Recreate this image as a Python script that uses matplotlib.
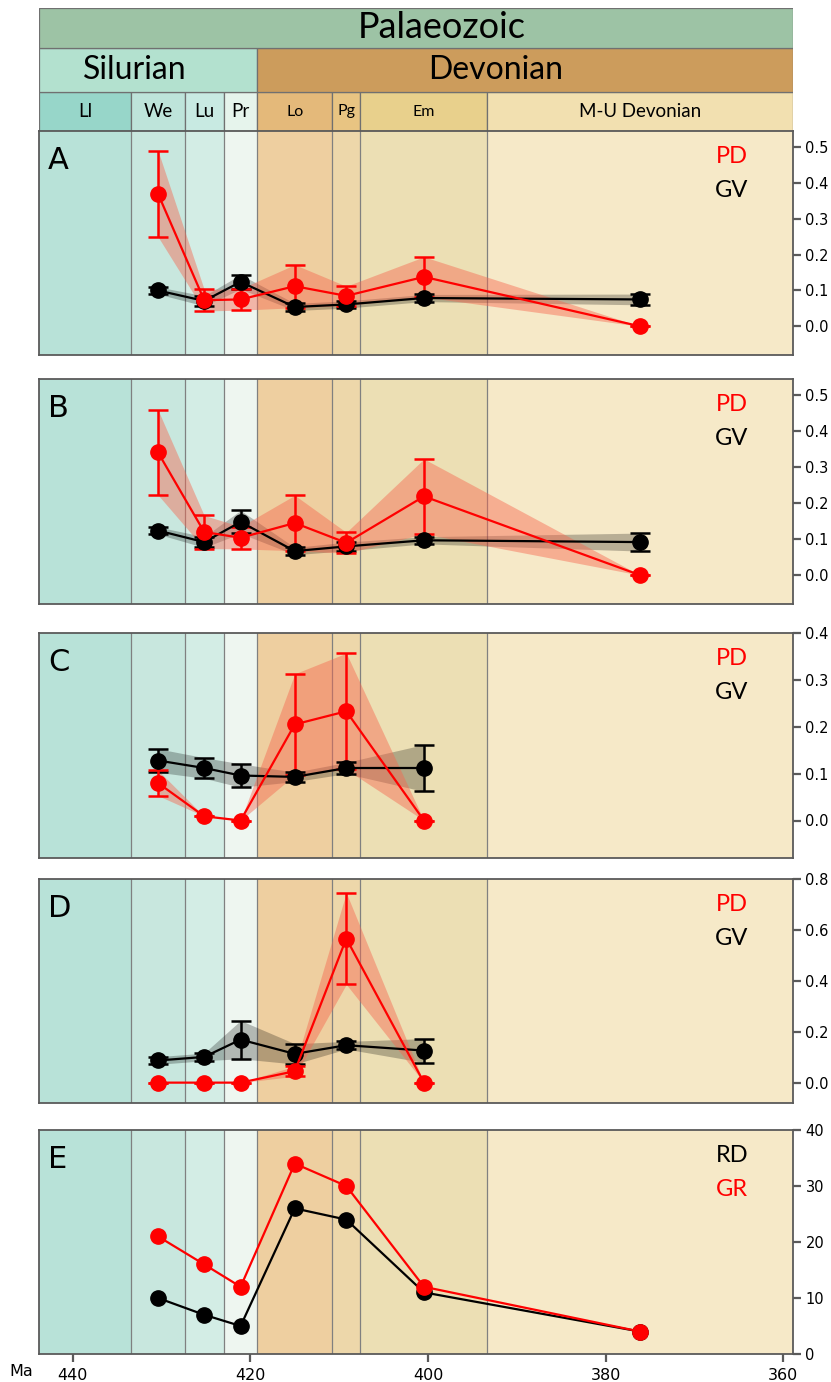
import numpy as np
import matplotlib
matplotlib.use('Agg')
import matplotlib.pyplot as plt
from matplotlib.patches import Rectangle

############
# Datos    #
############

# escala de tiempo (Ma)
stage_names = ['Ll', 'We', 'Lu', 'Pr', 'Lo', 'Pg', 'Em', 'M-U Devonian']
stage_base = [443.8, 433.4, 427.4, 423.0, 419.2, 410.8, 407.6, 393.3]
stage_top = [433.4, 427.4, 423.0, 419.2, 410.8, 407.6, 393.3, 358.9]
period_names = ['Silurian', 'Devonian']
period_base = [443.8, 419.2]
period_top = [419.2, 358.9]
era_name = 'Palaeozoic'

# puntos en el centro de cada piso (We ... M-U)
x_mid = [(b + t) / 2 for b, t in zip(stage_base[1:], stage_top[1:])]

# A
pd_a = [0.37, 0.073, 0.075, 0.112, 0.085, 0.138, 0.0]
pd_a_err = [0.12, 0.03, 0.03, 0.06, 0.027, 0.056, 0.0]
gv_a = [0.10, 0.071, 0.124, 0.054, 0.061, 0.079, 0.075]
gv_a_err = [0.01, 0.014, 0.02, 0.01, 0.01, 0.01, 0.015]

# B
pd_b = [0.341, 0.120, 0.104, 0.145, 0.090, 0.219, 0.0]
pd_b_err = [0.118, 0.046, 0.031, 0.077, 0.029, 0.104, 0.0]
gv_b = [0.124, 0.092, 0.148, 0.067, 0.080, 0.097, 0.092]
gv_b_err = [0.01, 0.015, 0.032, 0.01, 0.012, 0.01, 0.025]

# C (hasta Em)
pd_c = [0.080, 0.009, 0.0, 0.205, 0.233, 0.0]
pd_c_err = [0.027, 0.0, 0.0, 0.108, 0.124, 0.0]
gv_c = [0.128, 0.112, 0.096, 0.093, 0.112, 0.112]
gv_c_err = [0.025, 0.022, 0.025, 0.01, 0.012, 0.05]

# D (hasta Em)
pd_d = [0.0, 0.0, 0.0, 0.045, 0.566, 0.0]
pd_d_err = [0.0, 0.0, 0.0, 0.02, 0.18, 0.0]
gv_d = [0.087, 0.101, 0.169, 0.113, 0.147, 0.126]
gv_d_err = [0.015, 0.015, 0.075, 0.04, 0.015, 0.047]

# E
rd_e = [10, 7, 5, 26, 24, 11, 4]
gr_e = [21, 16, 12, 34, 30, 12, 4]

yticks_ab = [0.0, 0.1, 0.2, 0.3, 0.4, 0.5]
yticks_c = [0.0, 0.1, 0.2, 0.3, 0.4]
yticks_d = [0.0, 0.2, 0.4, 0.6, 0.8]
yticks_e = [0, 10, 20, 30, 40]
xticks_ma = [440, 420, 400, 380, 360]

############
# Estilo   #
############

hdr_colors = ['#97d6c9', '#bee4da', '#c8eae2', '#e6f4ec',
              '#e4b97a', '#e8c482', '#e8d08c', '#f2e0b0']
bg_colors = ['#b8e2d8', '#c8e7de', '#d3ede5', '#eef6f0',
             '#eecfa0', '#edd7aa', '#ecdfb4', '#f6e9c8']
period_colors = ['#b3e1cf', '#cc9c5c']
era_color = '#9dc3a5'
edge = '#707070'
spine_col = '#5a5a5a'

W, H = 831, 1382


def px_rect(x0, y0, x1, y1):
    return [x0 / W, 1 - y1 / H, (x1 - x0) / W, (y1 - y0) / H]


fig = plt.figure(figsize=(W / 100, H / 100), dpi=100)
xlim = (stage_base[0], stage_top[-1])

#############
# Cabecera  #
#############

hdr = fig.add_axes(px_rect(39, 8, 793, 131))
hdr.set_xlim(*xlim)
hdr.set_ylim(0, 123)
hdr.axis('off')

for name, b, t, c in zip(stage_names, stage_base, stage_top, hdr_colors):
    hdr.add_patch(Rectangle((t, 0), b - t, 39, fc=c, ec=edge, lw=0.9))
    small = name in ('Lo', 'Pg', 'Em')
    hdr.text((b + t) / 2, 19.5, name, ha='center', va='center',
             fontsize=11.5 if small else 13.5, family='Lato')

for name, b, t, c in zip(period_names, period_base, period_top, period_colors):
    hdr.add_patch(Rectangle((t, 39), b - t, 44, fc=c, ec=edge, lw=0.9))
hdr.text(433.0, 61, period_names[0], ha='center', va='center', fontsize=23, family='Lato')
hdr.text(392.4, 61, period_names[1], ha='center', va='center', fontsize=23, family='Lato')

hdr.add_patch(Rectangle((xlim[1], 83), xlim[0] - xlim[1], 40, fc=era_color, ec=edge, lw=0.9))
hdr.text(398.5, 103, era_name, ha='center', va='center', fontsize=26, family='Lato')

############
# Paneles  #
############

panel_px = [(131, 355), (379, 604), (633, 858), (879, 1103), (1130, 1354)]


def base_panel(rect, ylim, yticks, fmt):
    ax = fig.add_axes(px_rect(39, rect[0], 793, rect[1]))
    ax.set_xlim(*xlim)
    ax.set_ylim(*ylim)
    for b, t, c in zip(stage_base, stage_top, bg_colors):
        ax.axvspan(t, b, color=c, lw=0, zorder=0)
    for b in stage_base[1:]:
        ax.axvline(b, color='#808080', lw=0.9, zorder=0.5)
    ax.yaxis.tick_right()
    ax.set_yticks(yticks)
    ax.set_yticklabels([fmt.format(v) for v in yticks])
    ax.tick_params(axis='y', direction='out', length=6, width=1.6,
                   color=spine_col, labelsize=10.5, pad=3)
    ax.set_xticks([])
    for s in ax.spines.values():
        s.set_color(spine_col)
        s.set_linewidth(1.3)
    return ax


def series(ax, x, y, e, col, band_col, band_alpha):
    y = np.array(y)
    e = np.array(e)
    ax.fill_between(x, y - e, y + e, color=band_col, alpha=band_alpha, lw=0, zorder=1)
    ax.errorbar(x, y, yerr=e, fmt='-o', color=col, ms=11, lw=1.6,
                elinewidth=1.8, capsize=7, capthick=1.8, zorder=3)


panels = [
    ('A', (-0.08, 0.545), yticks_ab, pd_a, pd_a_err, gv_a, gv_a_err),
    ('B', (-0.08, 0.545), yticks_ab, pd_b, pd_b_err, gv_b, gv_b_err),
    ('C', (-0.08, 0.40), yticks_c, pd_c, pd_c_err, gv_c, gv_c_err),
    ('D', (-0.08, 0.80), yticks_d, pd_d, pd_d_err, gv_d, gv_d_err),
]

for i, (lab, ylim, yt, pdv, pde, gvv, gve) in enumerate(panels):
    ax = base_panel(panel_px[i], ylim, yt, '{:.1f}')
    xs = x_mid[:len(pdv)]
    series(ax, xs, gvv, gve, 'black', 'black', 0.25)
    series(ax, xs, pdv, pde, 'red', '#f66750', 0.45)
    ax.text(0.012, 0.87, lab, transform=ax.transAxes, ha='left', va='center',
            fontsize=22)
    ax.text(0.919, 0.886, 'PD', transform=ax.transAxes, ha='center', va='center',
            fontsize=17, family='Lato', color='red')
    ax.text(0.919, 0.734, 'GV', transform=ax.transAxes, ha='center', va='center',
            fontsize=17, family='Lato', color='black')

# E
ax = base_panel(panel_px[4], (0, 40), yticks_e, '{:d}')
ax.plot(x_mid, rd_e, '-o', color='black', ms=11, lw=1.6, zorder=3)
ax.plot(x_mid, gr_e, '-o', color='red', ms=11, lw=1.6, zorder=4)
ax.text(0.012, 0.87, 'E', transform=ax.transAxes, ha='left', va='center', fontsize=22)
ax.text(0.919, 0.886, 'RD', transform=ax.transAxes, ha='center', va='center',
        fontsize=17, family='Lato', color='black')
ax.text(0.919, 0.734, 'GR', transform=ax.transAxes, ha='center', va='center',
        fontsize=17, family='Lato', color='red')
ax.set_xticks(xticks_ma)
ax.set_xticklabels([str(v) for v in xticks_ma])
ax.tick_params(axis='x', direction='out', length=6, width=1.6,
               color=spine_col, labelsize=11.5, pad=4)

fig.text(21 / W, 1 - 1372 / H, 'Ma', ha='center', va='center', fontsize=11.5)

plt.savefig('out.png', dpi=100)
